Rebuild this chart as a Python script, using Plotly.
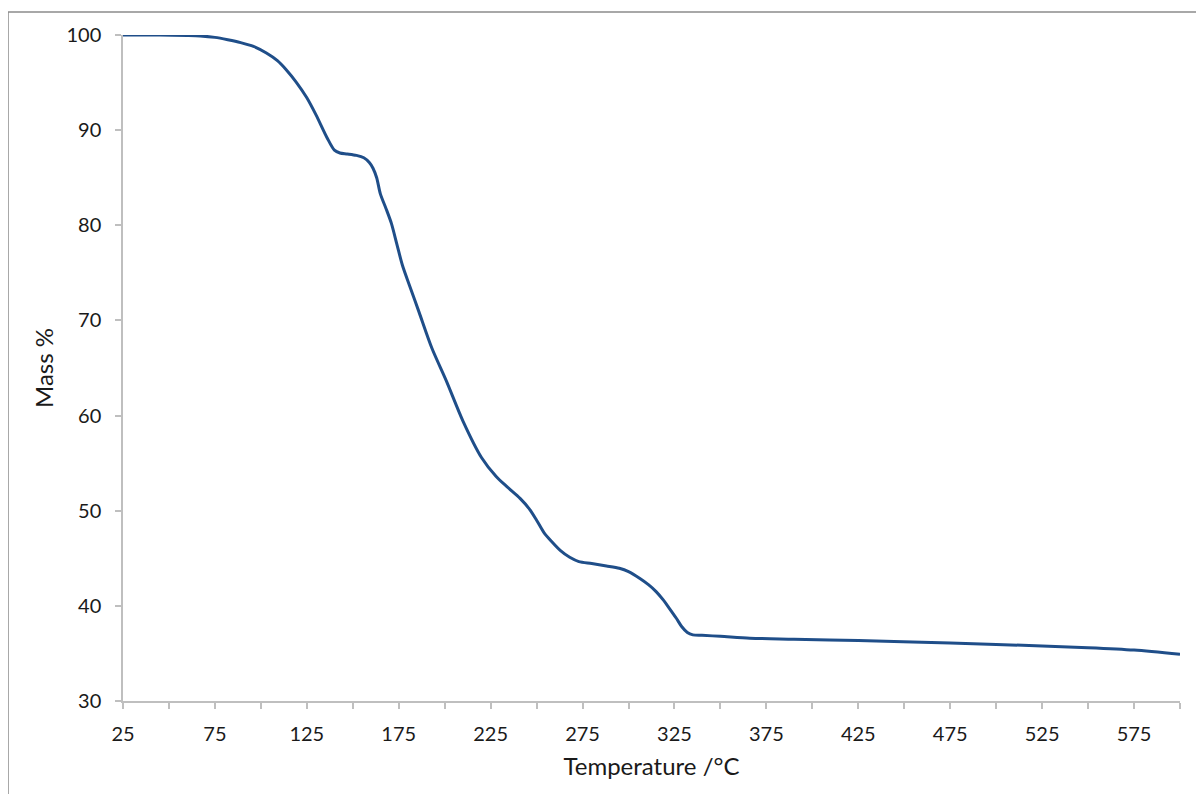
import plotly.graph_objects as go

temperature = [25, 45, 60, 67, 75, 82, 89, 96, 103, 109, 114, 119, 125, 130, 136, 140,
               143, 147, 152, 156, 159, 161, 163, 165, 168, 171, 174, 177, 181, 186,
               193, 201, 210, 220, 228, 234, 241, 246, 250, 254, 258, 263, 268, 273,
               280, 288, 295, 300, 306, 311, 315, 319, 322, 326, 329, 332, 335, 340,
               350, 366, 390, 425, 475, 500, 550, 575, 600]
mass = [100, 100, 99.95, 99.9, 99.75, 99.5, 99.2, 98.8, 98.1, 97.3, 96.3, 95.1, 93.4, 91.6,
        89.2, 87.9, 87.6, 87.5, 87.35, 87.1, 86.6, 86.0, 85.0, 83.3, 81.8, 80.2, 78.0,
        75.8, 73.6, 70.9, 67.1, 63.6, 59.4, 55.6, 53.6, 52.5, 51.3, 50.2, 49.0, 47.7,
        46.8, 45.8, 45.1, 44.65, 44.45, 44.2, 43.95, 43.6, 42.9, 42.2, 41.5, 40.6, 39.8,
        38.7, 37.8, 37.2, 36.95, 36.9, 36.8, 36.6, 36.5, 36.35, 36.1, 35.95, 35.6, 35.35, 34.9]

x_tick_vals = list(range(25, 601, 25))
x_tick_text = [str(v) if (v - 25) % 50 == 0 else "" for v in x_tick_vals]
y_tick_vals = [30, 40, 50, 60, 70, 80, 90, 100]

fig = go.Figure()
fig.add_trace(go.Scatter(
    x=temperature, y=mass, mode="lines",
    line=dict(color="#1F4E89", width=3, shape="spline", smoothing=0.8),
    showlegend=False, hoverinfo="skip"))

axis_gray = "#BFBFBF"
L, T, PW, PH = 115, 27, 1057, 666
fig.update_layout(
    width=1204, height=794,
    margin=dict(l=L, r=1204 - L - PW, t=T, b=794 - T - PH),
    paper_bgcolor="white", plot_bgcolor="white",
    font=dict(family="Lato, Open Sans, sans-serif", color="#1a1a1a", size=20),
    xaxis=dict(
        range=[25, 600], tickmode="array", tickvals=x_tick_vals, ticktext=x_tick_text,
        showgrid=False, zeroline=False, showline=True, linecolor=axis_gray, linewidth=1.5,
        ticks="outside", ticklen=6, tickcolor=axis_gray, tickwidth=1.5,
        tickfont=dict(size=20), ticklabelstandoff=8,
        title=dict(text="Temperature /°C", font=dict(size=24), standoff=14),
    ),
    yaxis=dict(
        range=[30, 100], tickmode="array", tickvals=y_tick_vals,
        showgrid=False, zeroline=False, showline=True, linecolor=axis_gray, linewidth=1.5,
        ticks="outside", ticklen=6, tickcolor=axis_gray, tickwidth=1.5,
        tickfont=dict(size=20), ticklabelstandoff=10,
        title=dict(text="Mass %", font=dict(size=24), standoff=6),
    ),
    shapes=[dict(type="rect", xref="paper", yref="paper",
                 x0=(0 - L) / PW, x1=(1210 - L) / PW,
                 y0=-(794 - T - PH + 10) / PH, y1=(PH + 23) / PH,
                 line=dict(color="#8C8C8C", width=1.5), fillcolor="rgba(0,0,0,0)",
                 layer="below")],
)

fig.write_html("out.html")
